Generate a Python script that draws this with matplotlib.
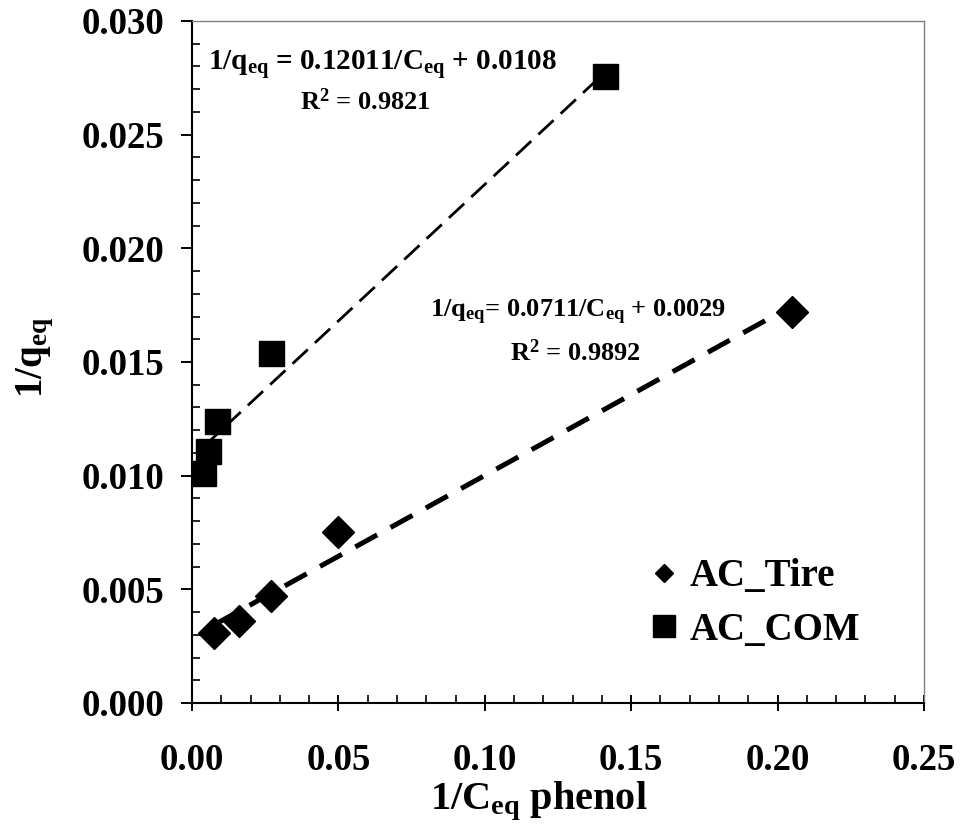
import matplotlib
matplotlib.use('Agg')
import matplotlib.pyplot as plt
import numpy as np
from matplotlib.lines import Line2D
from matplotlib.ticker import MultipleLocator, FormatStrFormatter

# data
tire_x = [0.0076, 0.016, 0.027, 0.050, 0.205]
tire_y = [0.0031, 0.0036, 0.0047, 0.0075, 0.0172]
com_x = [0.0038, 0.0053, 0.0087, 0.027, 0.141]
com_y = [0.0101, 0.0111, 0.0124, 0.0154, 0.0276]

# trendlines (slope, intercept) as printed on the chart
tire_fit = [0.0711, 0.0029]
com_fit = [0.12011, 0.0108]

x_ticks = [0.00, 0.05, 0.10, 0.15, 0.20, 0.25]
y_ticks = [0.000, 0.005, 0.010, 0.015, 0.020, 0.025, 0.030]

plt.rcParams['font.family'] = ['Liberation Serif', 'DejaVu Serif']
plt.rcParams['font.weight'] = 'bold'
plt.rcParams['mathtext.fontset'] = 'custom'
plt.rcParams['mathtext.rm'] = 'Liberation Serif:bold'
plt.rcParams['mathtext.bf'] = 'Liberation Serif:bold'
plt.rcParams['mathtext.it'] = 'Liberation Serif:bold'
plt.rcParams['mathtext.default'] = 'bf'
plt.rcParams['lines.scale_dashes'] = False

fig = plt.figure(figsize=(9.63, 8.39), dpi=100)
ax = fig.add_axes([0.1994, 0.1621, 0.7601, 0.8129])

# fitted lines
xs = np.array([min(com_x), max(com_x)])
ax.plot(xs, com_fit[0] * xs + com_fit[1], color='black', lw=2.0,
        dashes=(15, 7), zorder=2)
xs = np.array([min(tire_x), max(tire_x)])
ax.plot(xs, tire_fit[0] * xs + tire_fit[1], color='black', lw=3.6,
        dashes=(18, 11), zorder=2)

ax.plot(tire_x, tire_y, 'D', color='black', ms=16.5, zorder=3)
ax.plot(com_x, com_y, 's', color='black', ms=18, zorder=3)

ax.set_xlim(0, 0.25)
ax.set_ylim(0, 0.030)
ax.set_xticks(x_ticks)
ax.set_yticks(y_ticks)
ax.xaxis.set_major_formatter(FormatStrFormatter('%.2f'))
ax.yaxis.set_major_formatter(FormatStrFormatter('%.3f'))
ax.xaxis.set_minor_locator(MultipleLocator(0.01))
ax.yaxis.set_minor_locator(MultipleLocator(0.001))

ax.tick_params(axis='x', which='major', direction='inout', length=11.5,
               width=1.4, pad=23, labelsize=26.5)
ax.tick_params(axis='x', which='minor', direction='in', length=5.5, width=1.2)
ax.tick_params(axis='y', which='major', direction='out', length=8,
               width=1.4, pad=12, labelsize=26.5)
ax.tick_params(axis='y', which='minor', direction='in', length=5.5, width=1.2)

for s in ['left', 'bottom']:
    ax.spines[s].set_linewidth(1.5)
for s in ['top', 'right']:
    ax.spines[s].set_linewidth(1.0)
    ax.spines[s].set_color('#808080')

ax.set_xlabel(r'1/C$_{\rm eq}$ phenol', fontsize=29, fontweight='bold')
ax.xaxis.set_label_coords(0.474, -0.112)
ax.set_ylabel(r'1/q$_{\rm eq}$', fontsize=28, fontweight='bold', va='center')
ax.yaxis.set_label_coords(-0.214, 0.507)

ax.text(0.0055, 0.0281, r'1/q$_{\rm eq}$ = 0.12011/C$_{\rm eq}$ + 0.0108',
        fontsize=21, ha='left', va='center')
ax.text(0.0592, 0.02643, r'R$^{2}$ = 0.9821', fontsize=19, ha='center', va='center')
ax.text(0.0813, 0.0172, r'1/q$_{\rm eq}$= 0.0711/C$_{\rm eq}$ + 0.0029',
        fontsize=19, ha='left', va='center')
ax.text(0.1309, 0.01539, r'R$^{2}$ = 0.9892', fontsize=19, ha='center', va='center')

handles = [Line2D([], [], ls='none', marker='D', color='black', ms=9.5),
           Line2D([], [], ls='none', marker='s', color='black', ms=15.5)]
ax.legend(handles, ['AC_Tire', 'AC_COM'], loc='upper left',
          bbox_to_anchor=(0.626, 0.212), frameon=False, fontsize=28,
          handlelength=0.7, handletextpad=0.3, labelspacing=0.42,
          borderpad=0, borderaxespad=0)

fig.savefig('out.png', dpi=100)
